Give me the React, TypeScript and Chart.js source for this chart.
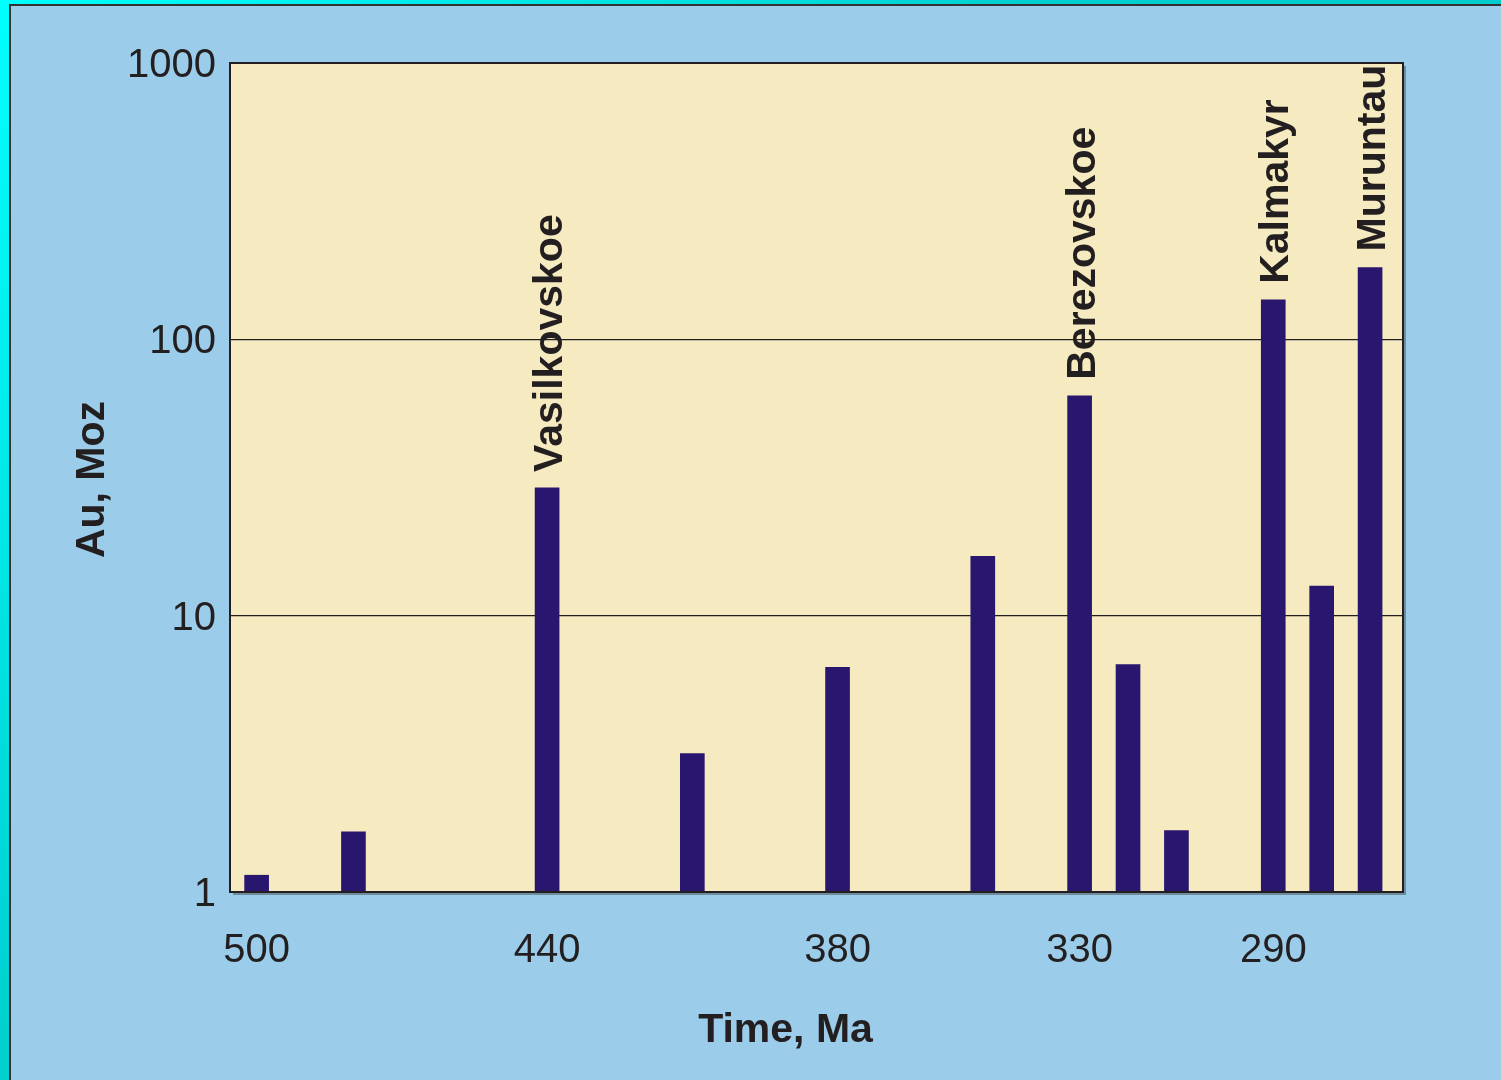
import React, { useEffect, useRef } from "react";
import { Chart, registerables } from "chart.js";

Chart.register(...registerables);

// ---- data ----
const agesMa = [500, 480, 440, 410, 380, 350, 330, 320, 310, 290, 280, 270];
const goldMoz = [1.15, 1.65, 29, 3.17, 6.5, 16.4, 62.5, 6.65, 1.67, 139, 12.8, 182];
const depositNames = ["", "", "Vasilkovskoe", "", "", "", "Berezovskoe", "", "", "Kalmakyr", "", "Muruntau"];
const xTickValues = [500, 440, 380, 330, 290];
const yTickValues = [1, 10, 100, 1000];
const xAxisTitle = "Time, Ma";
const yAxisTitle = "Au, Moz";

const FONT = '"Liberation Sans", Arial, Helvetica, sans-serif';
const TEXT = "#231f20";
const PANEL_BG = "#9bcdea";
const PLOT_BG = "#f6ebc0";
const BAR = "#29166f";

const plotBgPlugin = {
  id: "plotBg",
  beforeDraw(chart: any) {
    const { ctx, chartArea: a } = chart;
    ctx.save();
    ctx.fillStyle = PLOT_BG;
    ctx.fillRect(a.left, a.top, a.right - a.left, a.bottom - a.top);
    ctx.restore();
  },
  afterDraw(chart: any) {
    const { ctx, chartArea: a } = chart;
    ctx.save();
    ctx.strokeStyle = "rgba(60,60,60,0.45)";
    ctx.lineWidth = 2;
    ctx.beginPath();
    ctx.moveTo(a.right + 2, a.top + 3);
    ctx.lineTo(a.right + 2, a.bottom + 2);
    ctx.lineTo(a.left + 3, a.bottom + 2);
    ctx.stroke();
    ctx.strokeStyle = TEXT;
    ctx.lineWidth = 2;
    ctx.strokeRect(a.left, a.top, a.right - a.left, a.bottom - a.top);
    ctx.restore();
  },
};

const depositLabelPlugin = {
  id: "depositLabels",
  afterDatasetsDraw(chart: any) {
    const ctx = chart.ctx;
    const meta = chart.getDatasetMeta(0);
    ctx.save();
    ctx.font = `bold 41px ${FONT}`;
    ctx.fillStyle = TEXT;
    ctx.textAlign = "left";
    ctx.textBaseline = "alphabetic";
    meta.data.forEach((el: any, i: number) => {
      const name = depositNames[i];
      if (!name) return;
      ctx.save();
      ctx.translate(el.x + 15, el.y - 16);
      ctx.rotate(-Math.PI / 2);
      ctx.fillText(name, 0, 0);
      ctx.restore();
    });
    ctx.restore();
  },
};

const axisTitlePlugin = {
  id: "axisTitles",
  afterDraw(chart: any) {
    const { ctx, chartArea: a } = chart;
    ctx.save();
    ctx.font = `bold 41px ${FONT}`;
    ctx.fillStyle = TEXT;
    ctx.textAlign = "center";
    ctx.textBaseline = "middle";
    ctx.fillText(xAxisTitle, (a.left + a.right) / 2 - 31, a.bottom + 139);
    ctx.translate(93, (a.top + a.bottom) / 2 + 2);
    ctx.rotate(-Math.PI / 2);
    ctx.fillText(yAxisTitle, 0, 0);
    ctx.restore();
  },
};

function GoldChart() {
  const ref = useRef<HTMLCanvasElement | null>(null);
  useEffect(() => {
    if (!ref.current) return;
    const chart = new Chart(ref.current, {
      type: "bar",
      data: {
        datasets: [
          {
            data: agesMa.map((a, i) => ({ x: a, y: goldMoz[i] })),
            backgroundColor: BAR,
            borderWidth: 0,
            barThickness: 24,
            grouped: false,
          } as any,
        ],
      },
      options: {
        animation: false,
        responsive: false,
        maintainAspectRatio: false,
        layout: { padding: { left: 0, right: 98, top: 63, bottom: 0 } },
        plugins: {
          legend: { display: false },
          tooltip: { enabled: false },
          title: { display: false },
        },
        scales: {
          x: {
            type: "linear",
            reverse: true,
            offset: false,
            min: 263.2,
            max: 505.5,
            grid: { display: false, drawTicks: false, offset: false },
            border: { display: false },
            afterBuildTicks: (scale: any) => {
              scale.ticks = xTickValues.map((v) => ({ value: v }));
            },
            afterFit: (scale: any) => {
              scale.height = 188;
            },
            ticks: {
              autoSkip: false,
              maxRotation: 0,
              padding: 35,
              color: TEXT,
              font: { family: FONT, size: 40 },
              callback: (v: any) => String(v),
            },
          },
          y: {
            type: "logarithmic",
            min: 1,
            max: 1000,
            grid: { color: TEXT, lineWidth: 1.3, drawTicks: false },
            border: { display: false },
            afterBuildTicks: (scale: any) => {
              scale.ticks = yTickValues.map((v) => ({ value: v }));
            },
            afterFit: (scale: any) => {
              scale.width = 230;
            },
            ticks: {
              autoSkip: false,
              padding: 14,
              labelOffset: 3,
              color: TEXT,
              font: { family: FONT, size: 40 },
              callback: (v: any) => String(v),
            },
          },
        },
      } as any,
      plugins: [plotBgPlugin, depositLabelPlugin, axisTitlePlugin],
    });
    return () => chart.destroy();
  }, []);
  return (
    <canvas
      ref={ref}
      width={1501}
      height={1080}
      style={{ position: "absolute", left: 0, top: 0, width: 1501, height: 1080 }}
    />
  );
}

export default function App() {
  return (
    <div
      style={{
        position: "fixed",
        left: 0,
        top: 0,
        width: 1501,
        height: 1080,
        overflow: "hidden",
        background: "linear-gradient(135deg, #00ffff 0%, #00d0d0 40%, #00c4c4 100%)",
      }}
    >
      <div
        style={{
          position: "absolute",
          left: 9,
          top: 4,
          width: 1700,
          height: 1300,
          background: PANEL_BG,
          borderLeft: "2px solid #333",
          borderTop: "2px solid #333",
        }}
      />
      <GoldChart />
    </div>
  );
}
